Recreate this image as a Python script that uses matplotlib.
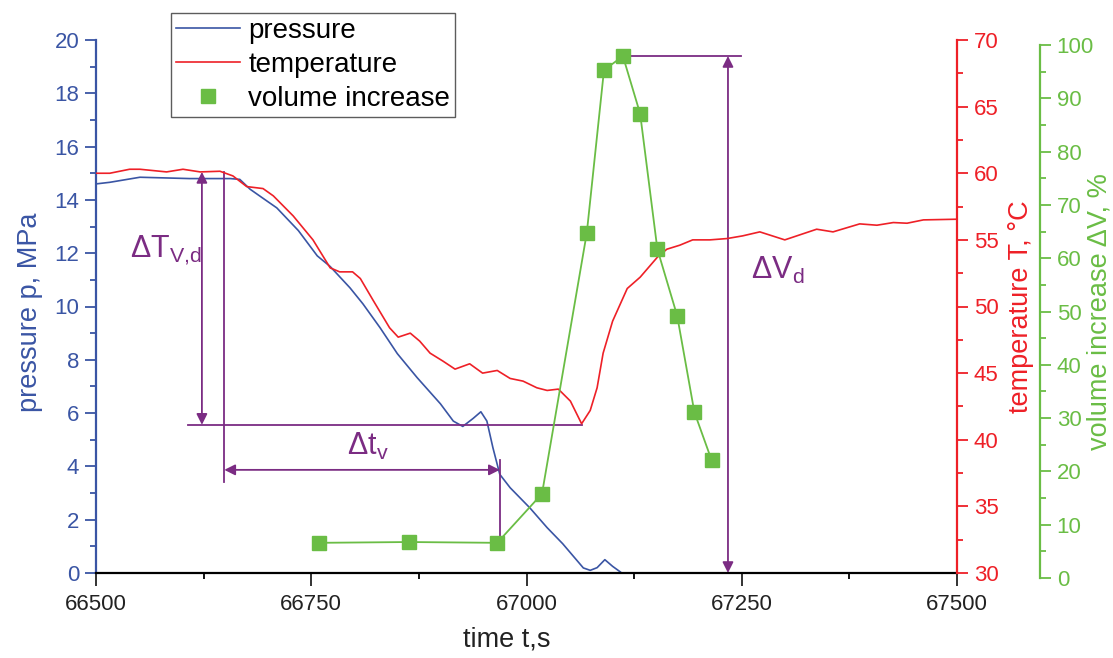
import matplotlib
matplotlib.use("Agg")
import matplotlib.pyplot as plt
from matplotlib.ticker import MultipleLocator

plt.rcParams['font.family'] = ['Liberation Sans', 'DejaVu Sans']
plt.rcParams['mathtext.fontset'] = 'custom'
plt.rcParams['mathtext.rm'] = 'Liberation Sans'

# pressure p, MPa
t_p = [66500, 66516, 66551, 66609, 66656, 66667, 66679, 66694, 66710, 66735, 66757, 66772,
       66795, 66810, 66830, 66850, 66873, 66900, 66915, 66926, 66938, 66947, 66954, 66961,
       66969, 66981, 67004, 67024, 67042, 67066, 67074, 67082, 67091, 67100, 67109]
pres = [14.6, 14.66, 14.85, 14.8, 14.8, 14.77, 14.4, 14.06, 13.7, 12.85, 11.9, 11.5,
        10.7, 10.1, 9.2, 8.23, 7.33, 6.35, 5.7, 5.5, 5.8, 6.05, 5.7, 4.7,
        3.7, 3.2, 2.44, 1.7, 1.1, 0.19, 0.1, 0.2, 0.5, 0.25, 0.04]

# temperature T, °C
t_T = [66500, 66516, 66539, 66551, 66582, 66601, 66621, 66644, 66659, 66675, 66694, 66706,
       66729, 66752, 66772, 66783, 66798, 66807, 66822, 66841, 66851, 66865, 66876, 66888,
       66903, 66917, 66934, 66949, 66966, 66981, 66996, 67012, 67024, 67037, 67051, 67064,
       67074, 67082, 67089, 67100, 67117, 67132, 67152, 67163, 67178, 67193, 67213, 67233,
       67251, 67271, 67300, 67337, 67356, 67387, 67407, 67426, 67442, 67461, 67500]
temp = [60.0, 60.0, 60.3, 60.3, 60.1, 60.3, 60.1, 60.15, 59.8, 59.0, 58.85, 58.3,
        56.8, 55.0, 52.9, 52.6, 52.6, 52.1, 50.45, 48.4, 47.7, 48.0, 47.4, 46.5,
        45.9, 45.3, 45.7, 45.0, 45.2, 44.6, 44.4, 43.9, 43.7, 43.8, 42.9, 41.2,
        42.2, 43.9, 46.5, 48.9, 51.35, 52.2, 53.7, 54.3, 54.6, 55.0, 55.0, 55.1,
        55.3, 55.6, 55.0, 55.8, 55.6, 56.2, 56.1, 56.3, 56.25, 56.5, 56.55]

# volume increase dV, %
t_V = [66759, 66864, 66966, 67018, 67070, 67090, 67112, 67132, 67152, 67175, 67195, 67215]
vol = [6.6, 6.75, 6.6, 15.8, 64.7, 95.3, 97.9, 87.1, 61.7, 49.2, 31.1, 22.1]

blue = '#3a55a4'
red = '#ee2027'
green = '#6abd45'
purple = '#7b2c83'

W, H = 1113, 658
fig = plt.figure(figsize=(W / 100, H / 100), dpi=100)
rect = [96 / W, 1 - 573 / H, 861 / W, 533 / H]
ax = fig.add_axes(rect)
ax2 = ax.twinx()
ax3 = fig.add_axes([96 / W, 1 - 578 / H, 861 / W, 533 / H], sharex=ax)

l1, = ax.plot(t_p, pres, color=blue, lw=1.2, label='pressure')
l2, = ax2.plot(t_T, temp, color=red, lw=1.2, label='temperature')
ax3.plot(t_V, vol, color=green, lw=1.3)
l3, = ax3.plot(t_V, vol, 's', color=green, ms=10, label='volume increase', ls='none')

ax.set_xlim(66500, 67500)
ax.set_ylim(0, 20)
ax2.set_ylim(30, 70)
ax3.set_ylim(0, 100)

fs_tick = 16
fs_lab = 19.5
fs_ann = 22

# bottom / left axis
for s in ['top', 'right']:
    ax.spines[s].set_visible(False)
ax.spines['bottom'].set_linewidth(1.6)
ax.spines['left'].set_linewidth(1.6)
ax.spines['left'].set_color(blue)
ax.xaxis.set_major_locator(MultipleLocator(250))
ax.xaxis.set_minor_locator(MultipleLocator(125))
ax.yaxis.set_major_locator(MultipleLocator(2))
ax.yaxis.set_minor_locator(MultipleLocator(1))
ax.tick_params(axis='x', which='major', length=9, width=1.3, labelsize=fs_tick, pad=6, colors='#222222')
ax.tick_params(axis='x', which='minor', length=4.5, width=1.3)
ax.tick_params(axis='y', which='major', length=8, width=1.3, labelsize=fs_tick, pad=4, colors=blue)
ax.tick_params(axis='y', which='minor', length=4, width=1.3, colors=blue)
ax.set_xlabel('time t,s', fontsize=fs_lab, color='#222222')
ax.xaxis.set_label_coords(0.477, -0.1)
ax.set_ylabel('pressure p, MPa', fontsize=fs_lab, color=blue)
ax.yaxis.set_label_coords(-0.062, 0.49)

# red axis
for s in ['top', 'left', 'bottom']:
    ax2.spines[s].set_visible(False)
ax2.spines['right'].set_color(red)
ax2.spines['right'].set_linewidth(1.6)
ax2.yaxis.set_major_locator(MultipleLocator(5))
ax2.yaxis.set_minor_locator(MultipleLocator(2.5))
ax2.tick_params(axis='y', which='major', length=8, width=1.3, labelsize=fs_tick, pad=4, colors=red)
ax2.tick_params(axis='y', which='minor', length=4, width=1.3, colors=red)
ax2.set_ylabel('temperature T, °C', fontsize=fs_lab, color=red)
ax2.yaxis.set_label_coords(1.059, 0.5)

# green axis
ax3.patch.set_visible(False)
ax3.xaxis.set_visible(False)
for s in ['top', 'left', 'bottom']:
    ax3.spines[s].set_visible(False)
ax3.spines['right'].set_position(('outward', 59.8))
ax3.spines['right'].set_color(green)
ax3.spines['right'].set_linewidth(1.6)
ax3.yaxis.tick_right()
ax3.yaxis.set_label_position('right')
ax3.yaxis.set_major_locator(MultipleLocator(10))
ax3.yaxis.set_minor_locator(MultipleLocator(5))
ax3.tick_params(axis='y', which='major', length=8, width=1.3, labelsize=fs_tick, pad=4, colors=green)
ax3.tick_params(axis='y', which='minor', length=4, width=1.3, colors=green)
ax3.set_ylabel('volume increase ΔV, %', fontsize=fs_lab, color=green)
ax3.yaxis.set_label_coords(1.15, 0.5)

# annotations (pressure axis coordinates)
arr = dict(arrowstyle='<|-|>', color=purple, lw=1.3, mutation_scale=16, shrinkA=0, shrinkB=0)
ax.annotate('', xy=(66623, 15.05), xytext=(66623, 5.56), arrowprops=arr)
ax.plot([66649, 66649], [15.05, 3.42], color=purple, lw=1.3)
ax.plot([66607, 67064], [5.56, 5.56], color=purple, lw=1.3)
ax.annotate('', xy=(66649, 3.87), xytext=(66969, 3.87), arrowprops=arr)
ax.plot([66969, 66969], [4.25, 1.09], color=purple, lw=1.3)
ax.annotate('', xy=(67234, 0.0), xytext=(67234, 19.4), arrowprops=arr)
ax.plot([67105, 67249], [19.4, 19.4], color=purple, lw=1.3)

ax.text(66581, 12.1, r'$\mathregular{ΔT_{V{,}d}}$', color=purple, fontsize=fs_ann, ha='center', va='center')
ax.text(66816, 4.75, r'$\mathregular{Δt_{v}}$', color=purple, fontsize=fs_ann, ha='center', va='center')
ax.text(67292, 11.35, r'$\mathregular{ΔV_{d}}$', color=purple, fontsize=fs_ann, ha='center', va='center')

leg = fig.legend([l1, l2, l3], ['pressure', 'temperature', 'volume increase'],
                 loc='upper left', bbox_to_anchor=(171 / W, 1 - 13 / H), bbox_transform=fig.transFigure,
                 borderaxespad=0, fontsize=20, frameon=True, fancybox=False,
                 handlelength=2.3, handletextpad=0.3, labelspacing=0.28, borderpad=0.18)
leg.get_frame().set_edgecolor('#333333')
leg.get_frame().set_linewidth(1.0)

fig.savefig('out.png', dpi=100)
